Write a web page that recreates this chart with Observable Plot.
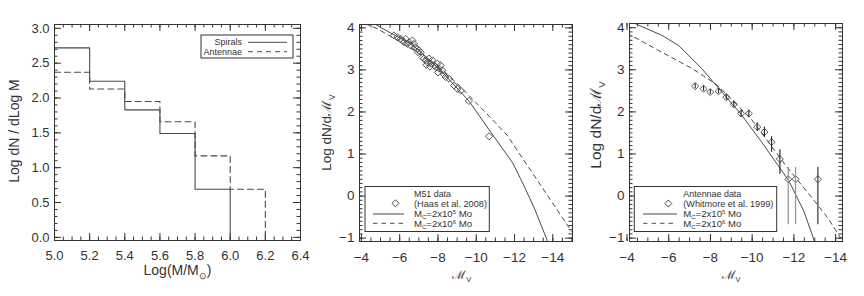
<!DOCTYPE html>
<html><head><meta charset="utf-8">
<script src="https://cdn.jsdelivr.net/npm/d3@7"></script>
<script src="https://cdn.jsdelivr.net/npm/@observablehq/plot@0.6"></script>
<style>
body{margin:0;background:#fff;}
#wrap{position:relative;width:864px;height:296px;overflow:hidden;background:#fff;}
#wrap svg{position:absolute;left:0;top:0;overflow:visible;background:transparent;}
</style></head><body><div id="wrap"></div>
<script>
// ---------- data: panel 1 (histograms) ----------
const binEdges = [5.0, 5.2, 5.4, 5.6, 5.8, 6.0, 6.2];
const spiralsHist = [2.72, 2.24, 1.83, 1.49, 0.69];
const antennaeHist = [2.37, 2.13, 1.95, 1.66, 1.17, 0.69];
const p1XTicks = [5.0, 5.2, 5.4, 5.6, 5.8, 6.0, 6.2, 6.4];
const p1YTicks = [0.0, 0.5, 1.0, 1.5, 2.0, 2.5, 3.0];

// ---------- data: panel 2 (M51) ----------
const m51X = [-5.70,-5.88,-6.05,-6.14,-6.22,-6.31,-6.40,-6.49,-6.57,-6.66,-6.75,-6.80,-6.92,-7.01,-7.10,-7.19,-7.27,-7.36,-7.45,-7.53,-7.62,-7.71,-7.79,-7.88,-7.97,-8.05,-8.14,-8.23,-8.40,-8.58,-8.84,-9.02,-9.19,-9.62,-10.67,-6.95,-7.40,-7.58,-8.00,-8.30];
const m51Y = [3.82,3.78,3.74,3.70,3.66,3.74,3.62,3.66,3.58,3.70,3.62,3.54,3.50,3.46,3.42,3.30,3.27,3.23,3.18,3.27,3.15,3.23,3.11,3.07,3.15,3.03,3.11,2.99,2.83,2.79,2.63,2.55,2.51,2.26,1.42,3.42,3.12,3.08,2.94,2.90];
const m51SolidX = [-4.2,-4.74,-5.44,-6.6,-7.4,-8.14,-9.62,-10.76,-11.89,-12.32,-13.02,-13.68,-13.8];
const m51SolidY = [4.18,4.08,3.90,3.62,3.30,2.99,2.26,1.52,0.80,0.41,-0.27,-1.02,-1.2];
const m51DashX = [-4.2,-4.39,-4.83,-5.44,-6.5,-7.7,-8.93,-10.23,-11.63,-12.15,-13.2,-14.85,-15.2];
const m51DashY = [4.10,4.06,3.98,3.82,3.54,3.17,2.71,2.11,1.44,1.08,0.37,-0.75,-0.97];

// ---------- data: panel 3 (Antennae) ----------
const antX  = [-7.27,-7.67,-7.99,-8.39,-8.76,-9.12,-9.47,-9.84,-10.24,-10.59,-10.93,-11.33,-11.73,-12.08,-13.15];
const antY  = [2.61,2.55,2.47,2.49,2.35,2.18,1.96,1.96,1.64,1.52,1.28,0.88,0.40,0.40,0.40];
const antLo = [2.55,2.49,2.41,2.43,2.28,2.11,1.88,1.88,1.54,1.40,1.04,0.52,-0.68,-0.68,-0.68];
const antHi = [2.67,2.61,2.53,2.55,2.42,2.25,2.04,2.04,1.74,1.64,1.41,1.10,0.68,0.68,0.68];
const antGrey = [0,0,0,0,0,0,0,0,0,0,0,0,1,1,0];
const antSolidX = [-4.2,-4.47,-5.67,-6.47,-7.6,-8.48,-9.44,-10.40,-11.75,-12.47,-12.95,-13.05];
const antSolidY = [4.15,4.08,3.82,3.58,3.02,2.51,1.96,1.32,0.37,-0.35,-1.02,-1.2];
const antDashX = [-4.0,-4.15,-5.51,-7.12,-8.3,-9.94,-11.68,-12.8,-13.61,-14.25,-14.45];
const antDashY = [3.87,3.83,3.46,3.03,2.65,1.84,0.68,0.0,-0.51,-1.0,-1.15];
const mvTicks = [-4, -6, -8, -10, -12, -14];
const logTicks = [-1, 0, 1, 2, 3, 4];

// ---------- helpers ----------
const W = 864, H = 296;
const INK = "#333";
const LINE = "#4a4a4a";
const FONT = "'Liberation Sans', Arial, sans-serif";
const wrap = document.getElementById("wrap");
const zip = (xs, ys) => xs.map((x, i) => ({x, y: ys[i]}));
const minus = d => d < 0 ? "\u2212" + Math.abs(d) : String(d);

function frameTicks(xMaj, xMin, yMaj, yMin, fw, fh) {
  const M = 7, m = 3.5, s = {stroke: INK, strokeWidth: 1};
  return [
    Plot.ruleX(xMaj, {x: d => d, insetTop: fh - M, ...s}),
    Plot.ruleX(xMaj, {x: d => d, insetBottom: fh - M, ...s}),
    Plot.ruleX(xMin, {x: d => d, insetTop: fh - m, ...s}),
    Plot.ruleX(xMin, {x: d => d, insetBottom: fh - m, ...s}),
    Plot.ruleY(yMaj, {y: d => d, insetRight: fw - M, ...s}),
    Plot.ruleY(yMaj, {y: d => d, insetLeft: fw - M, ...s}),
    Plot.ruleY(yMin, {y: d => d, insetRight: fw - m, ...s}),
    Plot.ruleY(yMin, {y: d => d, insetLeft: fw - m, ...s})
  ];
}

function panel({frame: [l, t, r, b], xDomain, yDomain, marks}) {
  const svg = Plot.plot({
    width: W, height: H,
    marginLeft: l, marginTop: t, marginRight: W - r, marginBottom: H - b,
    x: {domain: xDomain}, y: {domain: yDomain},
    style: {background: "transparent", overflow: "visible", fontFamily: FONT, color: INK},
    marks: [...marks, Plot.frame({stroke: INK, strokeWidth: 1})]
  });
  wrap.appendChild(svg);
  return d3.select(svg).append("g");
}

function rich(g, x, y, parts, opt) {
  const size = opt.size;
  const t = g.append("text").attr("font-size", size).attr("fill", INK)
    .attr("font-family", opt.family || FONT).attr("text-anchor", opt.anchor || "start");
  if (opt.rotate) t.attr("transform", `translate(${x},${y}) rotate(-90)`);
  else t.attr("x", x).attr("y", y);
  if (opt.len) t.attr("textLength", opt.len).attr("lengthAdjust", "spacingAndGlyphs");
  let shift = 0;
  parts.forEach(([s, k]) => {
    const target = k === "sub" ? 0.25 * size : k === "sup" ? -0.3 * size : 0;
    const ts = t.append("tspan").text(s).attr("dy", target - shift);
    if (k) ts.attr("font-size", size * 0.62);
    shift = target;
  });
  return t;
}

function legendBox(g, x, y, w, h) {
  g.append("rect").attr("x", x).attr("y", y).attr("width", w).attr("height", h)
    .attr("fill", "#fff").attr("stroke", INK).attr("stroke-width", 1);
}
function legendLine(g, x1, x2, y, dash) {
  g.append("line").attr("x1", x1).attr("x2", x2).attr("y1", y).attr("y2", y)
    .attr("stroke", LINE).attr("stroke-width", 1).attr("stroke-dasharray", dash || null);
}
function legendDiamond(g, x, y) {
  g.append("path").attr("transform", `translate(${x},${y})`)
    .attr("d", d3.symbol(d3.symbolDiamond2, 32)()).attr("fill", "none")
    .attr("stroke", LINE).attr("stroke-width", 1);
}
const LS = 9.6;
function mcParts(p) { return [["M", ""], ["C", "sub"], ["=2x10", ""], [p, "sup"], [" Mo", ""]]; }

// ---------- panel 1 ----------
const Y1 = [-0.045, 3.055];
function stepPoints(vals) {
  const pts = [];
  vals.forEach((v, i) => { pts.push({x: binEdges[i], y: v}); pts.push({x: binEdges[i + 1], y: v}); });
  pts.push({x: binEdges[vals.length], y: Y1[0]});
  return pts;
}
{
  const fr = [54, 24, 300, 240];
  const g = panel({
    frame: fr, xDomain: [5.0, 6.4], yDomain: Y1,
    marks: [
      ...frameTicks(p1XTicks, d3.range(0, 29).map(i => 5.0 + i * 0.05),
                    p1YTicks, d3.range(0, 31).map(i => i * 0.1), fr[2] - fr[0], fr[3] - fr[1]),
      Plot.axisX({ticks: p1XTicks, anchor: "bottom", tickSize: 0, tickPadding: 10, tickFormat: d3.format(".1f"), label: null, fontSize: 13}),
      Plot.axisY({ticks: p1YTicks, anchor: "left", tickSize: 0, tickPadding: 5, tickFormat: d3.format(".1f"), label: null, fontSize: 13}),
      Plot.line(stepPoints(spiralsHist), {x: "x", y: "y", stroke: LINE, strokeWidth: 1.1}),
      Plot.line(stepPoints(antennaeHist), {x: "x", y: "y", stroke: LINE, strokeWidth: 1.1, strokeDasharray: "6,4"})
    ]
  });
  rich(g, 19, 131, [["Log dN / dLog M", ""]], {size: 14, rotate: true, anchor: "middle"});
  rich(g, 177.5, 275, [["Log(M/M", ""], ["\u2299", "sub"], [")", ""]], {size: 14, anchor: "middle"});
  legendBox(g, 201, 35, 92, 23);
  rich(g, 242, 45.3, [["Spirals", ""]], {size: 9, anchor: "end"});
  rich(g, 242, 54.8, [["Antennae", ""]], {size: 9, anchor: "end"});
  legendLine(g, 248, 287, 42.3);
  legendLine(g, 248, 287, 51.7, "5,4");
}

// ---------- panel 2 ----------
{
  const fr = [359, 24, 572, 241];
  const g = panel({
    frame: fr, xDomain: [-3.9, -15.03], yDomain: [-1.08, 4.08],
    marks: [
      ...frameTicks(mvTicks, d3.range(0, 23).map(i => -4 - i * 0.5),
                    logTicks, d3.range(0, 51).map(i => -1 + i * 0.1), fr[2] - fr[0], fr[3] - fr[1]),
      Plot.axisX({ticks: mvTicks, anchor: "bottom", tickSize: 0, tickPadding: 11, tickFormat: minus, label: null, fontSize: 13.5}),
      Plot.axisY({ticks: logTicks, anchor: "left", tickSize: 0, tickPadding: 5, tickFormat: minus, label: null, fontSize: 13.5}),
      Plot.line(zip(m51SolidX, m51SolidY), {x: "x", y: "y", stroke: LINE, strokeWidth: 1, clip: true}),
      Plot.line(zip(m51DashX, m51DashY), {x: "x", y: "y", stroke: LINE, strokeWidth: 1, strokeDasharray: "4.5,4", clip: true}),
      Plot.dot(zip(m51X, m51Y), {x: "x", y: "y", symbol: "diamond2", r: 3.2, stroke: LINE, strokeWidth: 0.9, fill: "none"})
    ]
  });
  rich(g, 331.4, 132.5, [["Log dN/d", ""], ["\u2133", ""], ["V", "sub"]], {size: 13.5, rotate: true, anchor: "middle"});
  rich(g, 461.7, 279, [["\u2133", ""], ["V", "sub"]], {size: 12, anchor: "middle"});
  legendBox(g, 365, 186.5, 124.3, 45);
  legendDiamond(g, 395.5, 203.3);
  legendLine(g, 373, 404, 214);
  legendLine(g, 373, 404, 223.3, "4.5,4");
  rich(g, 414, 197, [["M51 data", ""]], {size: LS, len: 37});
  rich(g, 414, 207, [["(Haas et al. 2008)", ""]], {size: LS, len: 73});
  rich(g, 414, 217, mcParts("5"), {size: LS});
  rich(g, 414, 226.5, mcParts("6"), {size: LS});
}

// ---------- panel 3 ----------
{
  const fr = [629, 23, 842, 241];
  const ant = antX.map((x, i) => ({x, y: antY[i], lo: antLo[i], hi: antHi[i], grey: antGrey[i]}));
  const g = panel({
    frame: fr, xDomain: [-4.12, -14.33], yDomain: [-1.08, 4.1],
    marks: [
      ...frameTicks(mvTicks, d3.range(0, 21).map(i => -4 - i * 0.5),
                    logTicks, d3.range(0, 51).map(i => -1 + i * 0.1), fr[2] - fr[0], fr[3] - fr[1]),
      Plot.axisX({ticks: mvTicks, anchor: "bottom", tickSize: 0, tickPadding: 11, tickFormat: minus, label: null, fontSize: 13.5}),
      Plot.axisY({ticks: logTicks, anchor: "left", tickSize: 0, tickPadding: 5, tickFormat: minus, label: null, fontSize: 13.5}),
      Plot.line(zip(antSolidX, antSolidY), {x: "x", y: "y", stroke: LINE, strokeWidth: 1, clip: true}),
      Plot.line(zip(antDashX, antDashY), {x: "x", y: "y", stroke: LINE, strokeWidth: 1, strokeDasharray: "4.5,4", clip: true}),
      Plot.dot(ant, {x: "x", y: "y", symbol: "diamond2", r: 3.2, stroke: LINE, strokeWidth: 0.9, fill: "none"}),
      Plot.ruleX(ant.filter(d => !d.grey), {x: "x", y1: "lo", y2: "hi", stroke: "#222", strokeWidth: 1.1}),
      Plot.ruleX(ant.filter(d => d.grey), {x: "x", y1: "lo", y2: "hi", stroke: "#999", strokeWidth: 1.3})
    ]
  });
  rich(g, 601, 125, [["Log dN/d", ""], ["\u2133", ""], ["V", "sub"]], {size: 15.5, rotate: true, anchor: "middle"});
  rich(g, 731, 279, [["\u2133", ""], ["V", "sub"]], {size: 12, anchor: "middle"});
  legendBox(g, 634.3, 186.5, 142.4, 45);
  legendDiamond(g, 668.3, 203.5);
  legendLine(g, 643, 677, 214);
  legendLine(g, 643, 677, 223.3, "4.5,4");
  rich(g, 683.3, 197, [["Antennae data", ""]], {size: LS, len: 58});
  rich(g, 683.3, 207, [["(Whitmore et al. 1999)", ""]], {size: LS, len: 90});
  rich(g, 683.3, 217, mcParts("5"), {size: LS});
  rich(g, 683.3, 226.5, mcParts("6"), {size: LS});
}
</script></body></html>
